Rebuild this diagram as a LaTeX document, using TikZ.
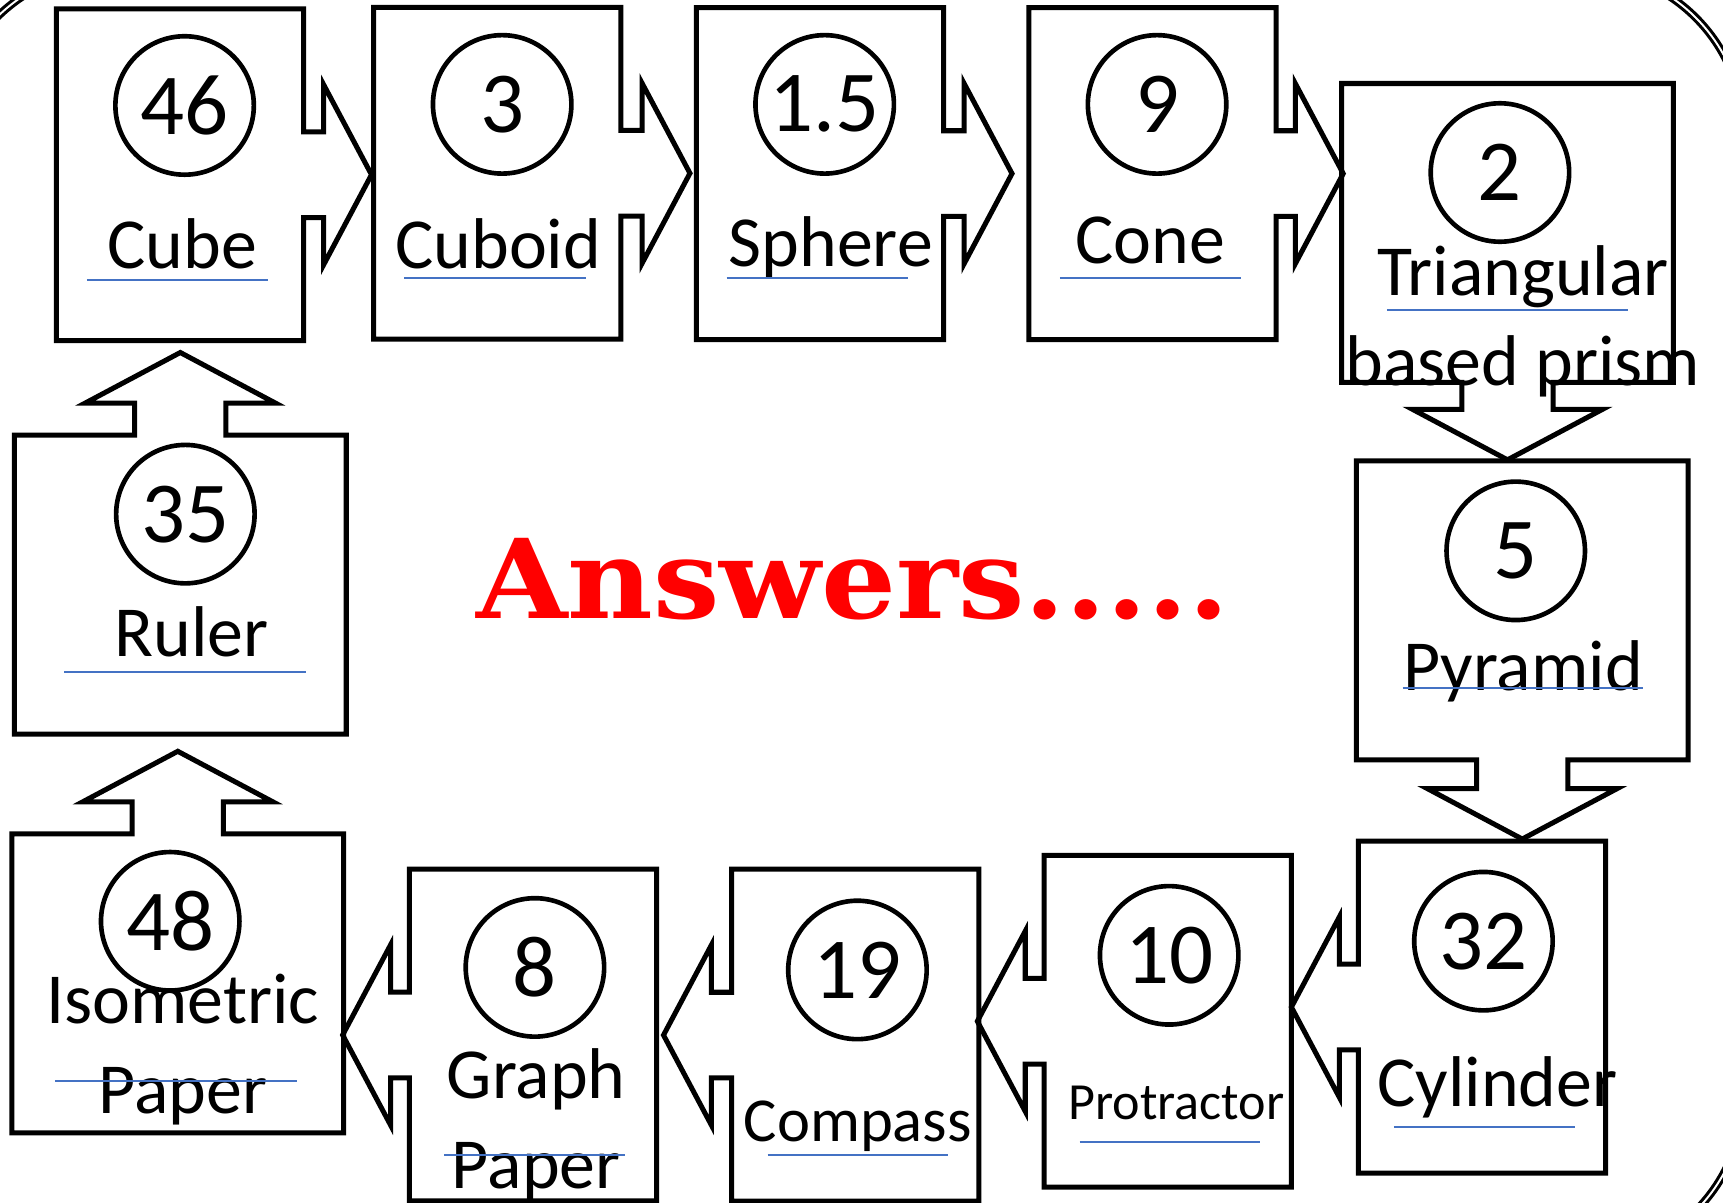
\documentclass[tikz,border=0pt]{standalone}
\usepackage{fontspec}
\setmainfont{Carlito}
\newfontfamily\answerfont{DejaVu Serif}
\usepackage{graphicx}
\usepackage{xcolor}
\usetikzlibrary{shapes.arrows}
\definecolor{spellblue}{RGB}{68,114,196}
\tikzset{
  tallbox/.style={arrow box,draw,line width=1.3pt,inner sep=0pt,
    minimum width=22.5mm,minimum height=30.2mm,
    arrow box tip angle=124,arrow box shaft width=7.8mm,
    arrow box head extend=4.3mm},
  widebox/.style={arrow box,draw,line width=1.3pt,inner sep=0pt,
    minimum width=30.2mm,minimum height=27.2mm,
    arrow box tip angle=124,arrow box shaft width=8.3mm,
    arrow box head extend=4.5mm},
  numnode/.style={circle,draw,line width=1.2pt,minimum size=12.6mm,
    inner sep=0pt,font=\fontsize{22.5pt}{27pt}\selectfont},
  namenode/.style={anchor=base,inner sep=0pt,align=center,
    font=\fontsize{18.6pt}{23.3pt}\selectfont},
  spellline/.style={spellblue,line width=0.5pt},
  frameline/.style={double,line width=0.8pt,double distance=0.5pt,
    rounded corners=15mm}
}

\begin{document}
\begin{tikzpicture}[x=0.1mm,y=-0.1mm]
  \path[use as bounding box,clip] (0,0) rectangle (1568,1094);
  \draw[frameline] (-47,-28) rectangle (1587,1146);

  \node[tallbox,arrow box arrows={east:5.95mm}] (cube) at (163.8,159) {};
  \node[tallbox,arrow box arrows={east:6.06mm}] (cuboid) at (452.5,157.7) {};
  \node[tallbox,arrow box arrows={east:6mm}] (sphere) at (746.2,158) {};
  \node[tallbox,arrow box arrows={east:5.87mm}] (cone) at (1048.9,158) {};
  \node[widebox,arrow box arrows={south:6.82mm}] (prism) at (1371.9,212) {};
  \node[widebox,arrow box arrows={south:6.98mm}] (pyramid) at (1385.3,555.5) {};
  \node[tallbox,arrow box arrows={west:5.87mm}] (cylinder) at (1348.7,916.5) {};
  \node[tallbox,arrow box arrows={west:5.84mm}] (protractor) at (1062.6,929.4) {};
  \node[tallbox,arrow box arrows={west:5.98mm}] (compass) at (778.4,942) {};
  \node[tallbox,arrow box arrows={west:5.84mm}] (graph) at (485,941.9) {};
  \node[widebox,arrow box arrows={north:7.29mm}] (isometric) at (161.8,894.9) {};
  \node[widebox,arrow box arrows={north:7.29mm}] (ruler) at (164.1,532) {};

  \node[numnode] (n46) at (168,96) {46};
  \node[numnode] (n3) at (457,95) {3};
  \node[numnode] (n15) at (750.5,95) {1.5};
  \node[numnode] (n9) at (1053,95) {9};
  \node[numnode] (n2) at (1365,157) {2};
  \node[numnode] (n5) at (1379.4,501.3) {5};
  \node[numnode] (n32) at (1350,856.5) {32};
  \node[numnode] (n10) at (1064,869.4) {10};
  \node[numnode] (n19) at (780.3,882.7) {19};
  \node[numnode] (n8) at (486.8,880.4) {8};
  \node[numnode] (n48) at (154.9,838.4) {48};
  \node[numnode] (n35) at (168.7,467.9) {35};

  \node[namenode] (lcube) at (166,244) {Cube};
  \node[namenode] (lcuboid) at (453.5,244) {Cuboid};
  \node[namenode] (lsphere) at (756,242.7) {Sphere};
  \node[namenode] (lcone) at (1047,239.6) {Cone};
  \node[namenode] (lprism) at (1386,350.4) {Triangular\\based prism};
  \node[namenode] (lpyramid) at (1386,628.8) {Pyramid};
  \node[namenode] (lcylinder) at (1362.6,1007) {Cylinder};
  \node[namenode,font=\fontsize{13.5pt}{16pt}\selectfont] (lprotractor)
    at (1070.5,1019.2) {Protractor};
  \node[namenode,font=\fontsize{16.2pt}{19pt}\selectfont] (lcompass)
    at (780.6,1039) {Compass};
  \node[namenode] (lgraph) at (488,1082) {Graph\\Paper};
  \node[namenode] (lisometric) at (166.3,1013.1) {Isometric\\Paper};
  \node[namenode] (lruler) at (174.4,597.6) {Ruler};

  \draw[spellline] (79,254.8) -- (243.8,254.8);
  \draw[spellline] (367.7,253) -- (533,253);
  \draw[spellline] (661.3,252.7) -- (826.5,252.7);
  \draw[spellline] (964.6,253.3) -- (1129,253.3);
  \draw[spellline] (1262,282) -- (1481.5,282);
  \draw[spellline] (1276.4,625.8) -- (1495,625.8);
  \draw[spellline] (1268.4,1025.3) -- (1433.4,1025.3);
  \draw[spellline] (982.5,1039) -- (1147,1039);
  \draw[spellline] (698.6,1051) -- (863,1051);
  \draw[spellline] (404.5,1051) -- (569,1051);
  \draw[spellline] (50.5,983.7) -- (270.7,983.7);
  \draw[spellline] (58.5,611.8) -- (278.5,611.8);

  \node[anchor=base west,inner sep=0pt,text=red] (answers) at (432.5,563)
    {\resizebox{68.6mm}{7.3mm}{\answerfont\bfseries Answers.....}};
\end{tikzpicture}
\end{document}
